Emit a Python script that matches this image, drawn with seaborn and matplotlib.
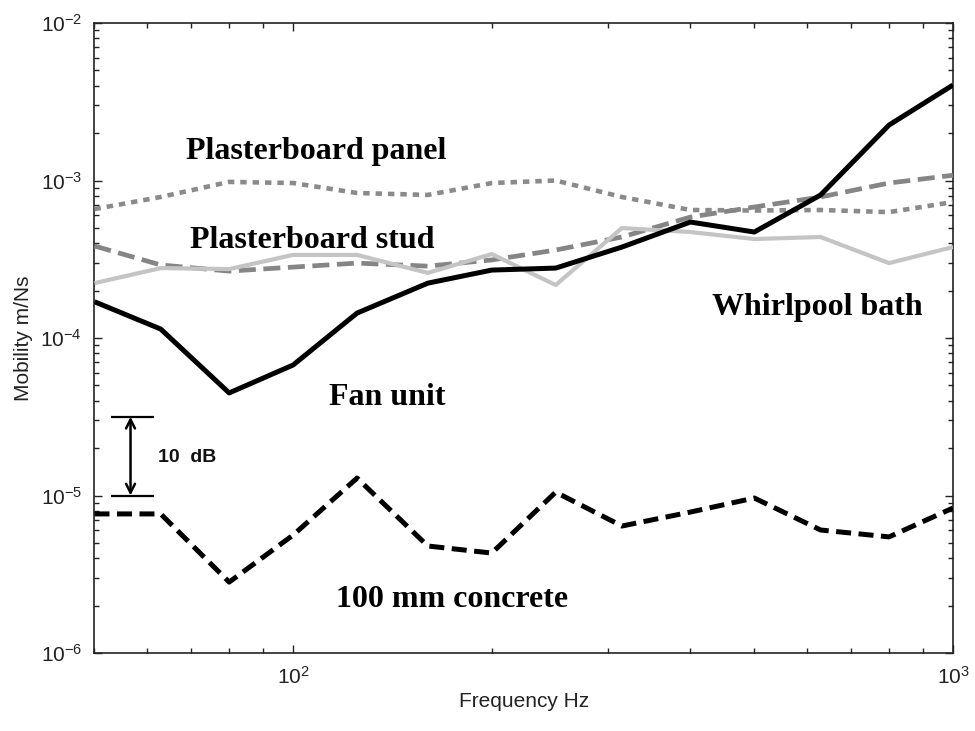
import numpy as np
import pandas as pd
import matplotlib
matplotlib.use("Agg")
import matplotlib.pyplot as plt
import seaborn as sns

# One-third octave band centre frequencies (Hz)
freq = [50, 63, 80, 100, 125, 160, 200, 250, 315, 400, 500, 630, 800, 1000]

# Point mobility (m/Ns) per source / receiver
fan_unit = [1.70e-4, 1.14e-4, 4.48e-5, 6.74e-5, 1.44e-4, 2.23e-4, 2.70e-4,
            2.78e-4, 3.78e-4, 5.45e-4, 4.71e-4, 8.09e-4, 2.25e-3, 4.04e-3]
plasterboard_panel = [6.59e-4, 7.86e-4, 9.80e-4, 9.64e-4, 8.33e-4, 8.10e-4, 9.64e-4,
                      1.00e-3, 7.86e-4, 6.50e-4, 6.45e-4, 6.50e-4, 6.30e-4, 7.30e-4]
plasterboard_stud = [3.84e-4, 2.91e-4, 2.66e-4, 2.82e-4, 2.99e-4, 2.86e-4, 3.13e-4,
                     3.62e-4, 4.38e-4, 5.86e-4, 6.79e-4, 7.86e-4, 9.64e-4, 1.08e-3]
whirlpool_bath = [2.23e-4, 2.78e-4, 2.74e-4, 3.37e-4, 3.37e-4, 2.59e-4, 3.41e-4,
                  2.17e-4, 4.99e-4, 4.71e-4, 4.25e-4, 4.38e-4, 2.99e-4, 3.78e-4]
concrete_100mm = [7.64e-6, 7.64e-6, 2.82e-6, 5.61e-6, 1.29e-5, 4.78e-6, 4.31e-6,
                  1.05e-5, 6.40e-6, 7.85e-6, 9.64e-6, 6.04e-6, 5.46e-6, 8.33e-6]

# 10 dB scale bar (mobility ratio of sqrt(10))
scale_bar_low = 1e-5
scale_bar_high = 10 ** -4.5

sns.set_theme(style="ticks")
plt.rcParams["font.family"] = ["Liberation Sans", "DejaVu Sans"]
plt.rcParams["axes.unicode_minus"] = False

fig = plt.figure(figsize=(9.75, 7.31), dpi=100)
ax = fig.add_axes([0.0969, 0.1067, 0.8805, 0.8618])

series = [
    (plasterboard_panel, "#8a8a8a", 3.3, (1.4, 1.3)),
    (plasterboard_stud, "#858585", 3.4, (3.6, 1.6)),
    (whirlpool_bath, "#c4c4c4", 3.0, None),
    (fan_unit, "#000000", 3.6, None),
    (concrete_100mm, "#000000", 3.6, (3.0, 1.5)),
]
for vals, color, lw, dashes in series:
    df = pd.DataFrame({"freq": freq, "mobility": vals})
    sns.lineplot(data=df, x="freq", y="mobility", ax=ax, color=color,
                 linewidth=lw, zorder=3)
    line = ax.lines[-1]
    line.set_solid_capstyle("butt")
    if dashes is not None:
        line.set_dashes(dashes)
        line.set_dash_capstyle("butt")

ax.set_xscale("log")
ax.set_yscale("log")
ax.set_xlim(50, 1000)
ax.set_ylim(1e-6, 1e-2)

ax.set_xlabel("Frequency Hz", fontsize=15, color="#222222", labelpad=3)
ax.set_ylabel("Mobility m/Ns", fontsize=15, color="#222222", labelpad=5)

for side in ["top", "right", "bottom", "left"]:
    ax.spines[side].set_visible(True)
    ax.spines[side].set_linewidth(1.2)
    ax.spines[side].set_color("#222222")
ax.tick_params(which="both", direction="in", top=True, right=True,
               colors="#222222", labelsize=15, width=1.0)
ax.tick_params(which="major", length=5.5, pad=9)
ax.tick_params(which="minor", length=3.5)

# Curve labels
label_kw = dict(fontfamily="Liberation Serif", fontweight="bold", fontsize=23,
                ha="center", va="center", color="black", zorder=2,
                bbox=dict(facecolor="white", edgecolor="none", pad=6))
ax.text(0.258, 0.796, "Plasterboard panel", transform=ax.transAxes, **label_kw)
ax.text(0.254, 0.655, "Plasterboard stud", transform=ax.transAxes, **label_kw)
ax.text(0.842, 0.549, "Whirlpool bath", transform=ax.transAxes, **label_kw)
ax.text(0.341, 0.405, "Fan unit", transform=ax.transAxes, **label_kw)
ax.text(0.417, 0.085, "100 mm concrete", transform=ax.transAxes, **label_kw)

# 10 dB scale bar
ax.hlines([scale_bar_low, scale_bar_high], 53, 61.5, colors="black", linewidth=1.6, zorder=4)
ax.annotate("", xy=(56.7, scale_bar_low), xytext=(56.7, scale_bar_high),
            arrowprops=dict(arrowstyle="<->", color="black", lw=1.8,
                            mutation_scale=16, shrinkA=0, shrinkB=0), zorder=4)
ax.text(62.3, 10 ** -4.76, "10  dB", fontsize=14, fontweight="bold",
        ha="left", va="center", color="#111111")

fig.savefig("out.png", dpi=100, facecolor="white")
